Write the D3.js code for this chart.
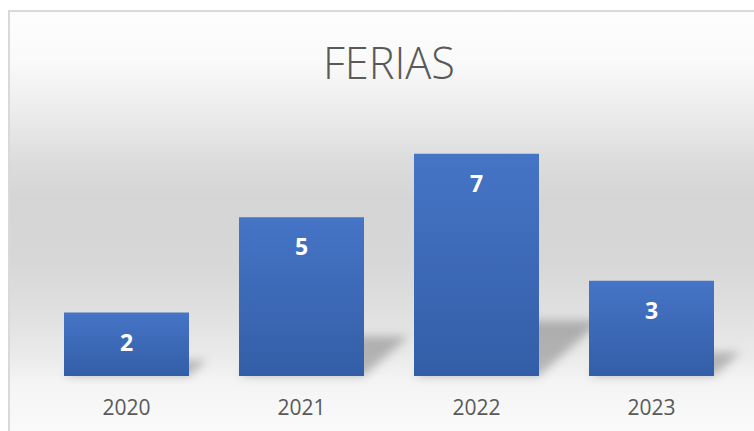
<!DOCTYPE html>
<html>
<head>
<meta charset="utf-8">
<script src="https://cdn.jsdelivr.net/npm/d3@7"></script>
<style>
  html, body { margin: 0; padding: 0; background: #ffffff; overflow: hidden; }
</style>
</head>
<body>
<div class="chart"></div>
<script>
const years = ["2020", "2021", "2022", "2023"]
const ferias = [2, 5, 7, 3]
const chartTitle = "FERIAS"

const drawChart = () => {
  const colors = {
    text: "#595959",
    border: "#d9d9d9",
    barTop: "#4674c6",
    barBottom: "#335ea7"
  }

  let dims = {
    width: 754,
    height: 431,
    margin: { top: 122, right: 15, bottom: 55, left: 39 }
  }
  dims.boundedWidth = dims.width - dims.margin.left - dims.margin.right
  dims.boundedHeight = dims.height - dims.margin.top - dims.margin.bottom

  const data = years.map((y, i) => ({ year: y, value: ferias[i] }))

  const xAccessor = d => d.year
  const yAccessor = d => d.value

  // excel gap width 40%
  const xScale = d3.scaleBand()
    .domain(years)
    .range([0, dims.boundedWidth])
    .paddingInner(0.4 / 1.4)
    .paddingOuter(0.2 / 1.4)

  const yScale = d3.scaleLinear()
    .domain([0, 8])
    .range([dims.boundedHeight, 0])

  const svg = d3.select(".chart").append("svg")
      .attr("width", dims.width)
      .attr("height", dims.height)
      .style("display", "block")

  const defs = svg.append("defs")

  const bg = defs.append("linearGradient")
      .attr("id", "bg-grad")
      .attr("gradientUnits", "userSpaceOnUse")
      .attr("x1", 0).attr("x2", 0)
      .attr("y1", 10).attr("y2", 431)
  const bgStops = [
    [0, "#fdfdfd"], [0.12, "#fafafa"], [0.24, "#ececec"], [0.36, "#dcdcdc"],
    [0.45, "#d5d5d5"], [0.6, "#d7d7d7"], [0.72, "#e0e0e0"], [0.82, "#eaeaea"],
    [0.88, "#f4f4f4"], [1, "#fafafa"]
  ]
  bg.selectAll("stop")
    .data(bgStops)
    .join("stop")
      .attr("offset", d => d[0])
      .attr("stop-color", d => d[1])

  const barGrad = defs.append("linearGradient")
      .attr("id", "bar-grad")
      .attr("x1", 0).attr("x2", 0)
      .attr("y1", 0).attr("y2", 1)
  barGrad.append("stop").attr("offset", 0).attr("stop-color", colors.barTop)
  barGrad.append("stop").attr("offset", 1).attr("stop-color", colors.barBottom)

  const blur = defs.append("filter")
      .attr("id", "shadow-blur")
      .attr("x", "-50%").attr("y", "-50%")
      .attr("width", "200%").attr("height", "200%")
  blur.append("feGaussianBlur").attr("stdDeviation", 5)

  // chart area background with border
  svg.append("rect")
      .attr("x", 9)
      .attr("y", 11)
      .attr("width", 780)
      .attr("height", 460)
      .attr("fill", "url(#bg-grad)")
      .attr("stroke", colors.border)
      .attr("stroke-width", 2)

  svg.append("text")
      .attr("x", dims.margin.left + dims.boundedWidth / 2)
      .attr("y", 79)
      .attr("text-anchor", "middle")
      .attr("font-family", "'Open Sans', sans-serif")
      .attr("font-weight", 300)
      .attr("font-size", 45)
      .attr("textLength", 132)
      .attr("lengthAdjust", "spacingAndGlyphs")
      .attr("fill", colors.text)
      .text(chartTitle)

  const bounds = svg.append("g")
      .attr("transform", `translate(${dims.margin.left},${dims.margin.top})`)

  // perspective shadows falling back and to the right
  const base = dims.boundedHeight
  const shadowPath = d => {
    const x0 = xScale(xAccessor(d))
    const x1 = x0 + xScale.bandwidth()
    const h = base - yScale(yAccessor(d))
    const dx = h * 0.28
    const dy = h * 0.25
    return `M${x0},${base}L${x1},${base}L${x1 + dx},${base - dy}L${x0 + dx},${base - dy}Z`
  }

  bounds.selectAll(".shadow")
    .data(data)
    .join("path")
      .attr("class", "shadow")
      .attr("d", shadowPath)
      .attr("fill", "#000")
      .attr("fill-opacity", 0.24)
      .attr("filter", "url(#shadow-blur)")

  bounds.selectAll(".bar")
    .data(data)
    .join("rect")
      .attr("class", "bar")
      .attr("x", d => xScale(xAccessor(d)))
      .attr("y", d => yScale(yAccessor(d)))
      .attr("width", xScale.bandwidth())
      .attr("height", d => base - yScale(yAccessor(d)))
      .attr("fill", "url(#bar-grad)")

  bounds.selectAll(".bar-label")
    .data(data)
    .join("text")
      .attr("class", "bar-label")
      .attr("x", d => xScale(xAccessor(d)) + xScale.bandwidth() / 2)
      .attr("y", d => yScale(yAccessor(d)) + 38)
      .attr("text-anchor", "middle")
      .attr("font-family", "'Open Sans', sans-serif")
      .attr("font-weight", 700)
      .attr("font-size", 23)
      .attr("fill", "#ffffff")
      .text(d => yAccessor(d))

  const xAxisGenerator = d3.axisBottom()
    .scale(xScale)
    .tickSize(0)
    .tickPadding(0)

  bounds.append("g")
      .attr("transform", `translate(0,${base})`)
      .call(xAxisGenerator)
      .call(g => g.select(".domain").remove())
      .call(g => g.selectAll(".tick text")
        .attr("y", 39)
        .attr("dy", null)
        .attr("font-family", "'Open Sans', sans-serif")
        .attr("font-size", 21)
        .attr("fill", colors.text))
}
drawChart()
</script>
</body>
</html>
